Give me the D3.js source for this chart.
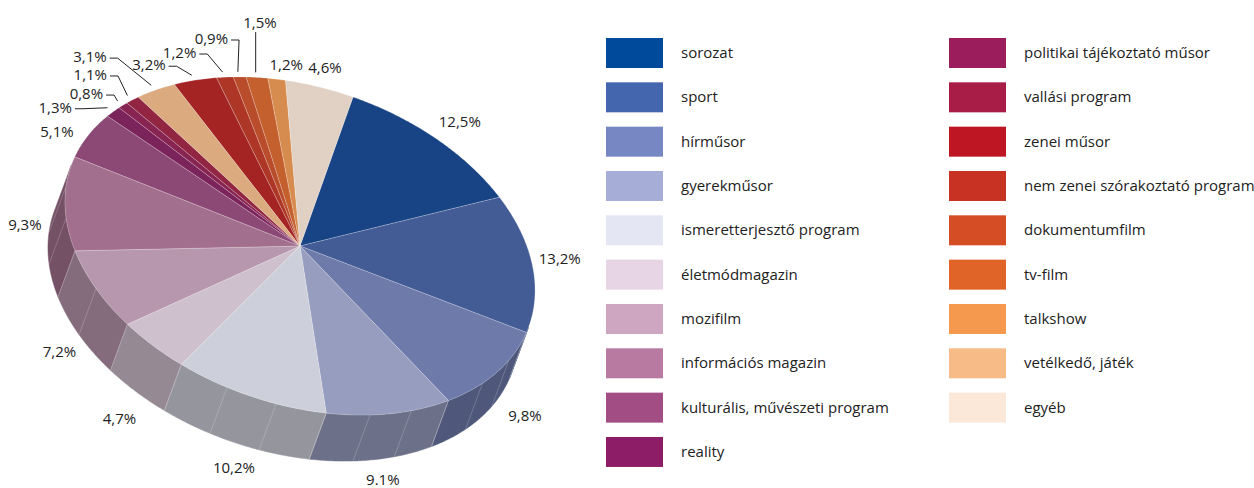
<!DOCTYPE html>
<html>
<head>
<meta charset="utf-8">
<script src="https://cdn.jsdelivr.net/npm/d3@7"></script>
<style>
  body { margin: 0; background: #fff; }
  svg { display: block; }
</style>
</head>
<body>
<svg id="chart" width="1254" height="488"></svg>
<script>
// ---------------- data ----------------
const categories = [
  "sorozat", "sport", "hírműsor", "gyerekműsor", "ismeretterjesztő program",
  "életmódmagazin", "mozifilm", "információs magazin", "kulturális, művészeti program", "reality",
  "politikai tájékoztató műsor", "vallási program", "zenei műsor", "nem zenei szórakoztató program", "dokumentumfilm",
  "tv-film", "talkshow", "vetélkedő, játék", "egyéb"
];
const values = [12.5, 13.2, 9.8, 9.1, 10.2, 4.7, 7.2, 9.3, 5.1, 1.3, 0.8, 1.1, 3.2, 1.2, 0.9, 1.5, 1.2, 3.1, 4.6];
const valueLabels = ["12,5%", "13,2%", "9,8%", "9.1%", "10,2%", "4,7%", "7,2%", "9,3%", "5,1%", "1,3%",
  "0,8%", "1,1%", "3,2%", "1,2%", "0,9%", "1,5%", "1,2%", "3,1%", "4,6%"];
// order of the slices around the pie (clockwise from 12 o'clock)
const pieOrder = [
  "sorozat", "sport", "hírműsor", "gyerekműsor", "ismeretterjesztő program", "életmódmagazin", "mozifilm",
  "információs magazin", "kulturális, művészeti program", "reality", "politikai tájékoztató műsor", "vallási program",
  "vetélkedő, játék", "zenei műsor", "nem zenei szórakoztató program", "dokumentumfilm", "tv-film", "talkshow", "egyéb"
];
const legendColors = ["#004A9B", "#4466AE", "#7787C3", "#A6AED8", "#E4E6F3", "#E7D5E5", "#CEA6C2", "#B87AA0",
  "#A24D84", "#8E1D68", "#9C1D5B", "#A81C48", "#BE1622", "#C83223", "#D54D25", "#E06427", "#F4994D", "#F7BB87", "#FCE8D8"];

// ---------------- layout / style ----------------
const FONT = "'Open Sans', 'Noto Sans', sans-serif";
const TEXT = "#222";
// oblique projection of the pie disc (unit circle -> screen)
const proj = { cx: 300, cy: 246, ax: 53, ay: -149, bx: 229, by: 80, dx: -17, dy: 46 };
// label ring
const ring = { cx: 293, cy: 266, ax: 70, ay: -198, bx: 259, by: 79 };
const labelLayout = {
  "sorozat": { nudge: [3, 9] },
  "sport": { nudge: [0, -9] },
  "hírműsor": { nudge: [13, 8] },
  "gyerekműsor": { nudge: [-5, 7] },
  "ismeretterjesztő program": { nudge: [6, 3] },
  "életmódmagazin": { nudge: [2, 9] },
  "mozifilm": { nudge: [4, 9] },
  "információs magazin": { nudge: [0, -9] },
  "kulturális, művészeti program": { nudge: [1, -13] },
  "talkshow": { nudge: [10, 12] },
  "egyéb": { nudge: [0, 9] },
  "reality": { leader: [-35.5, 0] },
  "politikai tájékoztató műsor": { leader: [-14.5, -7] },
  "vallási program": { leader: [-20.4, -20.6] },
  "vetélkedő, játék": { leader: [-44.6, -28.2] },
  "zenei műsor": { leader: [-26.1, -10] },
  "nem zenei szórakoztató program": { leader: [-26.3, -19.1] },
  "dokumentumfilm": { leader: [-9.8, -32.8] },
  "tv-film": { leader: [4.3, -49.3], vertical: true }
};

const rows = categories.map((name, i) => ({
  name, value: values[i], label: valueLabels[i], color: legendColors[i]
}));

// lit/shaded variants of a legend colour
const shade = (col, f) => {
  const h = d3.hcl(col); h.c *= 0.9;
  const c = d3.rgb(h);
  return d3.rgb(c.r * f, c.g * f, c.b * f).formatHex();
};

const pie = d3.pie()
  .value(d => d.value)
  .sort((a, b) => pieOrder.indexOf(a.name) - pieOrder.indexOf(b.name));
const arcs = pie(rows);

function rimPt(a, k = 1, drop = 0) {
  const c = Math.cos(a), s = Math.sin(a);
  return [proj.cx + k * (proj.ax * c + proj.bx * s) + drop * proj.dx,
          proj.cy + k * (proj.ay * c + proj.by * s) + drop * proj.dy];
}
function ringPt(a) {
  const c = Math.cos(a), s = Math.sin(a);
  return [ring.cx + ring.ax * c + ring.bx * s, ring.cy + ring.ay * c + ring.by * s];
}
function sample(a0, a1) {
  const n = Math.max(2, Math.ceil((a1 - a0) / 0.01));
  return d3.range(n + 1).map(i => a0 + (a1 - a0) * i / n);
}
const line = d3.line();

// silhouette angles of the extruded disc
const P = -proj.ax * proj.dy + proj.ay * proj.dx;
const Q = proj.bx * proj.dy - proj.by * proj.dx;
const frontLo = Math.atan2(Q, -P);
const frontHi = frontLo + Math.PI;

const svg = d3.select("#chart");
const gPie = svg.append("g");

// ----- side walls (front half only) -----
arcs.forEach(d => {
  const lo = Math.max(d.startAngle, frontLo), hi = Math.min(d.endAngle, frontHi);
  if (lo >= hi) return;
  const angs = sample(lo, hi);
  const pts = angs.map(a => rimPt(a)).concat(angs.slice().reverse().map(a => rimPt(a, 1, 1)));
  const side = shade(d.data.color, 0.9 * 0.72);
  gPie.append("path")
    .attr("d", line(pts) + "Z")
    .attr("fill", side)
    .attr("stroke", side)
    .attr("stroke-width", 0.5);
  // facet seams
  const nf = Math.max(1, Math.round(d.data.value / 3.3));
  for (let j = 1; j < nf; j++) {
    const a = d.startAngle + (d.endAngle - d.startAngle) * j / nf;
    if (a <= frontLo || a >= frontHi) continue;
    gPie.append("path")
      .attr("d", line([rimPt(a), rimPt(a, 1, 1)]))
      .attr("stroke", "rgba(255,255,255,0.28)")
      .attr("stroke-width", 0.7)
      .attr("fill", "none");
  }
});
// wall boundary seams
arcs.forEach(d => {
  const a = d.startAngle;
  if (a <= frontLo || a >= frontHi) return;
  gPie.append("path")
    .attr("d", line([rimPt(a), rimPt(a, 1, 1)]))
    .attr("stroke", "rgba(255,255,255,0.45)")
    .attr("stroke-width", 0.7)
    .attr("fill", "none");
});

// ----- top faces -----
arcs.forEach(d => {
  const pts = [[proj.cx, proj.cy]].concat(sample(d.startAngle, d.endAngle).map(a => rimPt(a)));
  gPie.append("path")
    .attr("d", line(pts) + "Z")
    .attr("fill", shade(d.data.color, 0.9))
    .attr("stroke", "rgba(255,255,255,0.35)")
    .attr("stroke-width", 0.6)
    .attr("stroke-linejoin", "round");
});

// ----- value labels -----
const gLab = svg.append("g")
  .attr("font-family", FONT).attr("font-size", 15).attr("fill", TEXT);
arcs.forEach(d => {
  const lay = labelLayout[d.data.name] || { nudge: [0, 0] };
  const mid = (d.startAngle + d.endAngle) / 2;
  if (lay.leader) {
    const end = rimPt(mid, 1.03);
    const ax = end[0] + lay.leader[0], ay = end[1] + lay.leader[1];
    if (lay.vertical) {
      gLab.append("text").attr("x", ax).attr("y", ay + 5).attr("text-anchor", "middle").text(d.data.label);
      gLab.append("path")
        .attr("d", line([[end[0], ay + 9], end]))
        .attr("stroke", TEXT).attr("stroke-width", 1).attr("fill", "none");
    } else {
      gLab.append("text").attr("x", ax).attr("y", ay + 5).attr("text-anchor", "end").text(d.data.label);
      gLab.append("path")
        .attr("d", line([[ax + 3, ay + 1], [ax + 11, ay + 1], end]))
        .attr("stroke", TEXT).attr("stroke-width", 1).attr("fill", "none");
    }
  } else {
    const p = ringPt(mid);
    gLab.append("text")
      .attr("x", p[0] + lay.nudge[0]).attr("y", p[1] + lay.nudge[1] + 5)
      .attr("text-anchor", "middle").text(d.data.label);
  }
});

// ----- legend -----
const perCol = 10;
const colX = d3.scaleOrdinal().domain([0, 1]).range([606, 949]);
const rowY = d3.scaleLinear().domain([0, 1]).range([38, 82.33]);
const gLeg = svg.append("g").attr("font-family", FONT).attr("font-size", 15).attr("fill", TEXT);
rows.forEach((r, i) => {
  const col = Math.floor(i / perCol), row = i % perCol;
  const x = colX(col), y = rowY(row);
  gLeg.append("rect").attr("x", x).attr("y", y).attr("width", 57).attr("height", 30).attr("fill", r.color);
  gLeg.append("text").attr("x", x + 75).attr("y", y + 20).text(r.name);
});
</script>
</body>
</html>
